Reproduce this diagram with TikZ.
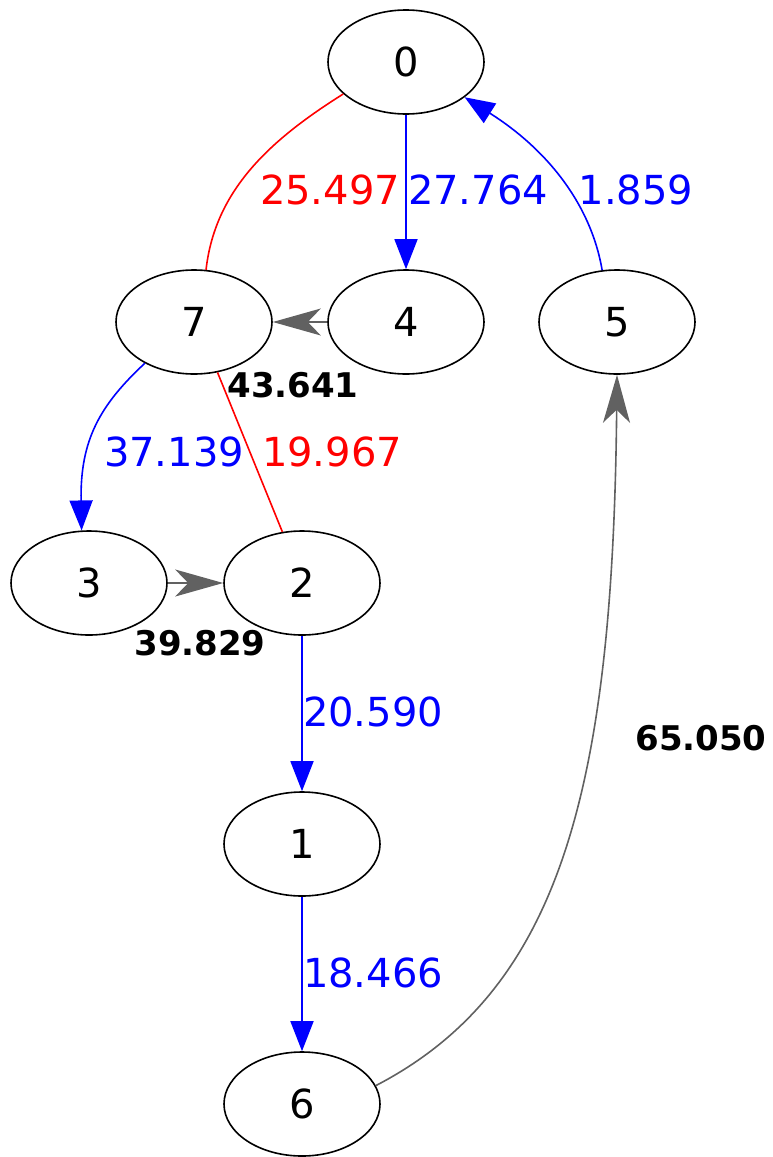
\documentclass[tikz,border=0pt]{standalone}
\usepackage{fontspec}
\setmainfont{DejaVu Sans}
\usetikzlibrary{shapes.geometric,arrows.meta}

\begin{document}
\begin{tikzpicture}[x=1pt,y=-1pt,
  vertex/.style={ellipse,draw=black,line width=1.6pt,minimum width=156pt,
    minimum height=104pt,inner sep=0pt,font=\fontsize{40}{48}\selectfont},
  wlabel/.style={font=\fontsize{40}{48}\selectfont,inner sep=0pt},
  blabel/.style={font=\fontsize{34}{40}\selectfont\bfseries,inner sep=0pt},
  tree/.style={blue,line width=1.6pt,-{Triangle[length=30pt,width=23pt]}},
  cut/.style={red,line width=1.6pt},
  back/.style={black!62,line width=1.6pt,-{Stealth[length=48pt,width=27pt,inset=13pt]}}]

\useasboundingbox (0,0) rectangle (773,1157);

% vertices
\node[vertex] (n0) at (406,62) {0};
\node[vertex] (n7) at (194,322) {7};
\node[vertex] (n4) at (406,322) {4};
\node[vertex] (n5) at (617,322) {5};
\node[vertex] (n3) at (89,583) {3};
\node[vertex] (n2) at (302,583) {2};
\node[vertex] (n1) at (302,844) {1};
\node[vertex] (n6) at (302,1104) {6};

% edges
\draw[cut] (n0.207.6) .. controls (270,140) and (215,190) .. (n7.77);
\draw[tree] (n0.south) -- (n4.north);
\draw[tree] (n5.106) .. controls (591,205) and (548,150) .. (n0.-31.5);
\draw[back] (n4.west) -- (n7.east);
\draw[tree] (n7.220) .. controls (100,405) and (80,440) .. (n3.98);
\draw[cut] (n7.-65) -- (n2.111);
\draw[back] (n3.east) -- (n2.west);
\draw[tree] (n2.south) -- (n1.north);
\draw[tree] (n1.south) -- (n6.north);
\draw[back] (n6.14.7) .. controls (560,990) and (613,790) .. (n5.south);

% edge weights
\node[wlabel,red]  (l07) at (330,190) {25.497};
\node[wlabel,blue] (l04) at (478,190) {27.764};
\node[wlabel,blue] (l50) at (636,190) {1.859};
\node[blabel]      (l47) at (293,385) {43.641};
\node[wlabel,blue] (l73) at (174,452) {37.139};
\node[wlabel,red]  (l72) at (332,452) {19.967};
\node[blabel]      (l32) at (200,643) {39.829};
\node[wlabel,blue] (l21) at (373,712) {20.590};
\node[wlabel,blue] (l16) at (373,973) {18.466};
\node[blabel]      (l65) at (701,738) {65.050};
\end{tikzpicture}
\end{document}
